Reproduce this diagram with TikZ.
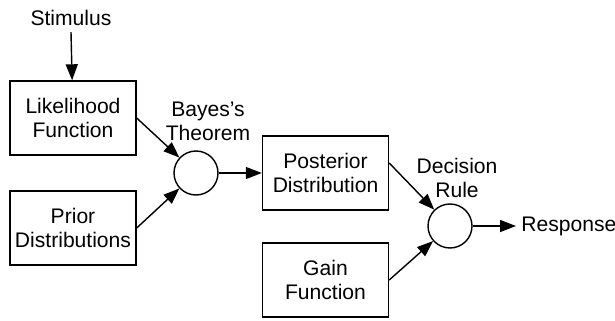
\documentclass[tikz,border=0pt]{standalone}
\usepackage{fontspec}
\setmainfont{Liberation Sans}
\usepackage{tikz}
\usetikzlibrary{shapes, arrows.meta, positioning, calc}

\begin{document}
\begin{tikzpicture}[
    block/.style={rectangle, draw, line width=0.8pt, minimum width=2.52cm,
      minimum height=1.48cm, align=center, inner sep=0pt},
    junction/.style={circle, draw, line width=0.8pt, minimum size=0.88cm, inner sep=0pt},
    label/.style={align=center, inner sep=0pt},
    line/.style={-{Triangle[length=0.32cm, width=0.24cm]}, line width=0.8pt},
    font=\fontsize{12}{13.7}\selectfont
  ]
    \useasboundingbox (0,0) rectangle (12.3,6.4);

    \node[label] (stim) at (1.42,6.04) {Stimulus};
    \node[block] (lik) at (1.46,4.04) {Likelihood\\Function};
    \node[block] (pri) at (1.46,1.84) {Prior\\Distributions};
    \node[junction] (bay) at (3.92,2.94) {};
    \node[label] (bayl) at (4.16,3.98) {Bayes’s\\Theorem};

    \node[block] (pos) at (6.51,2.94) {Posterior\\Distribution};
    \node[block] (gai) at (6.51,0.80) {Gain\\Function};
    \node[junction] (dec) at (9.0,1.88) {};
    \node[label] (decl) at (9.14,2.84) {Decision\\Rule};
    \node[label, anchor=west] (res) at (10.42,1.88) {Response};

    % connectors
    \draw[line] ([yshift=-0.12cm]stim.south) -- (lik);
    \draw[line] (lik.east) -- (bay);
    \draw[line] (pri.east) -- (bay);
    \draw[line] (bay) -- (pos);
    \draw[line] ([yshift=0.2cm]pos.east) -- (dec);
    \draw[line] (gai.east) -- (dec);
    \draw[line] (dec) -- ([xshift=-0.1cm]res.west);
  \end{tikzpicture}
\end{document}
